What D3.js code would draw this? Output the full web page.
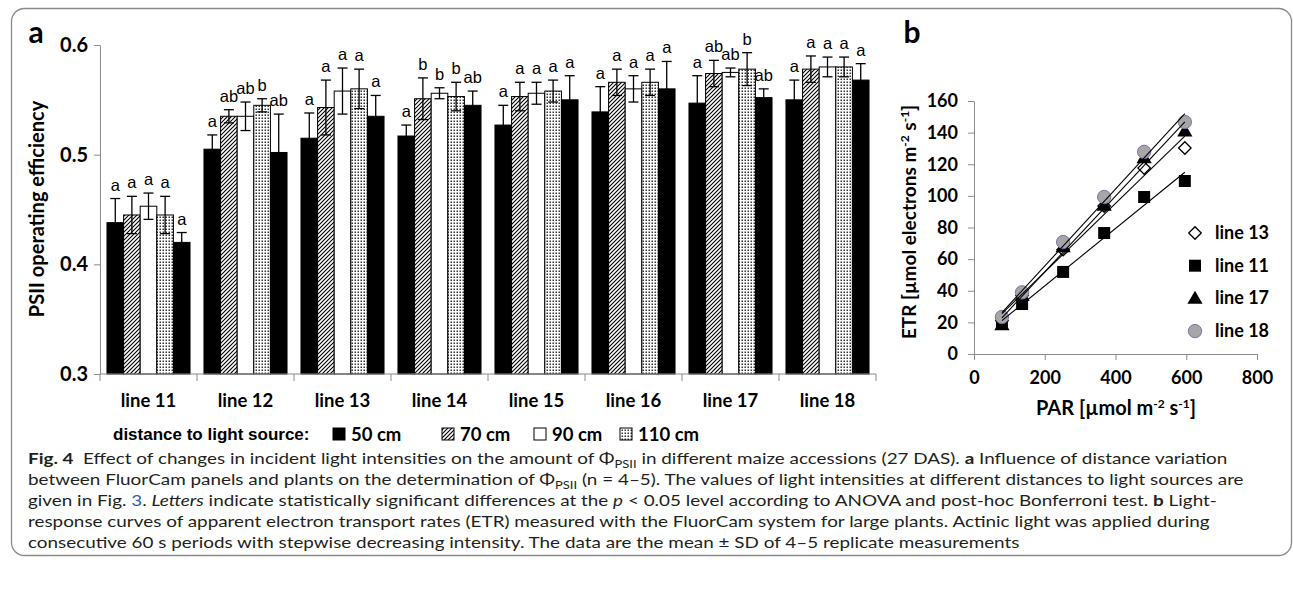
<!DOCTYPE html>
<html>
<head>
<meta charset="utf-8">
<script src="https://cdn.jsdelivr.net/npm/d3@7/dist/d3.min.js"></script>
<style>
  body { margin: 0; background: #fff; }
  svg { display: block; }
</style>
</head>
<body>
<svg id="fig" width="1293" height="593"></svg>
<script>
// ---------- Panel a: PSII operating efficiency per maize line ----------
const lineNames = ["line 11", "line 12", "line 13", "line 14", "line 15", "line 16", "line 17", "line 18"];
const distanceKeys = ["50 cm", "70 cm", "90 cm", "110 cm", "130 cm"];
const legendKeys = ["50 cm", "70 cm", "90 cm", "110 cm"];

const mean50  = [0.438, 0.505, 0.515, 0.517, 0.527, 0.539, 0.547, 0.550];
const sd50    = [0.022, 0.013, 0.023, 0.010, 0.018, 0.023, 0.025, 0.018];
const mean70  = [0.445, 0.535, 0.543, 0.551, 0.553, 0.566, 0.574, 0.578];
const sd70    = [0.017, 0.006, 0.025, 0.019, 0.013, 0.012, 0.012, 0.012];
const mean90  = [0.453, 0.535, 0.558, 0.556, 0.556, 0.560, 0.575, 0.580];
const sd90    = [0.012, 0.013, 0.021, 0.005, 0.010, 0.012, 0.004, 0.009];
const mean110 = [0.445, 0.545, 0.560, 0.553, 0.558, 0.566, 0.578, 0.580];
const sd110   = [0.017, 0.006, 0.018, 0.013, 0.010, 0.012, 0.015, 0.009];
const mean130 = [0.420, 0.502, 0.535, 0.545, 0.550, 0.560, 0.552, 0.568];
const sd130   = [0.009, 0.035, 0.019, 0.013, 0.022, 0.025, 0.008, 0.015];

const letters50  = ["a", "a",  "a", "a",  "a", "a", "a",  "a"];
const letters70  = ["a", "ab", "a", "b",  "a", "a", "ab", "a"];
const letters90  = ["a", "ab", "a", "b",  "a", "a", "ab", "a"];
const letters110 = ["a", "b",  "a", "b",  "a", "a", "b",  "a"];
const letters130 = ["a", "ab", "a", "ab", "a", "a", "ab", "a"];

const effTicks = [0.3, 0.4, 0.5, 0.6];

// ---------- Panel b: ETR light-response ----------
const par    = [79, 136, 252, 368, 481, 596];
const etr13  = [21.0, 37.0, 66.0, 93.6, 117.6, 130.3];
const etr11  = [19.0, 31.6, 51.9, 76.5, 99.3, 109.4];
const etr17  = [18.5, 37.0, 67.7, 94.0, 124.0, 141.0];
const etr18  = [23.4, 39.0, 70.8, 99.3, 127.8, 146.7];
const etrNames = ["line 13", "line 11", "line 17", "line 18"];
const parTicks = [0, 200, 400, 600, 800];
const etrTicks = [0, 20, 40, 60, 80, 100, 120, 140, 160];

const CAL = "Lato, 'Open Sans', sans-serif";
const ARIAL = "'Liberation Sans', Arial, sans-serif";
const AXIS_GREY = "#8c8c8c";

const svg = d3.select("#fig");
const defs = svg.append("defs");

// fill patterns
const hatch = defs.append("pattern").attr("id", "hatch")
  .attr("patternUnits", "userSpaceOnUse").attr("width", 4).attr("height", 4);
hatch.append("rect").attr("width", 4).attr("height", 4).attr("fill", "#fff");
hatch.append("path").attr("d", "M-1,1 l2,-2 M0,4 l4,-4 M3,5 l2,-2")
  .attr("stroke", "#000").attr("stroke-width", 1.1);

const dots = defs.append("pattern").attr("id", "dots")
  .attr("patternUnits", "userSpaceOnUse").attr("width", 3).attr("height", 3);
dots.append("rect").attr("width", 3).attr("height", 3).attr("fill", "#fff");
dots.append("rect").attr("x", 0.5).attr("y", 0.5).attr("width", 1.5).attr("height", 1.5).attr("fill", "#333");

const fills = {"50 cm": "#000", "70 cm": "url(#hatch)", "90 cm": "#fff", "110 cm": "url(#dots)", "130 cm": "#000"};

// outer frame
svg.append("rect").attr("x", 11.5).attr("y", 8.5).attr("width", 1280).attr("height", 547)
  .attr("rx", 13).attr("fill", "none").attr("stroke", "#8a8a8a").attr("stroke-width", 1.3);

// ================= Panel a =================
const series = [
  {key: "50 cm",  mean: mean50,  sd: sd50,  letters: letters50},
  {key: "70 cm",  mean: mean70,  sd: sd70,  letters: letters70},
  {key: "90 cm",  mean: mean90,  sd: sd90,  letters: letters90},
  {key: "110 cm", mean: mean110, sd: sd110, letters: letters110},
  {key: "130 cm", mean: mean130, sd: sd130, letters: letters130}
];

const x0 = d3.scaleBand().domain(lineNames).range([100, 876]).padding(0);
const x1 = d3.scaleBand().domain(distanceKeys).range([0, x0.bandwidth()]).paddingInner(0).paddingOuter(0.42);
const yA = d3.scaleLinear().domain([0.3, 0.6]).range([374, 45]);

const gA = svg.append("g");

const barData = [];
series.forEach(s => lineNames.forEach((ln, i) => {
  barData.push({line: ln, key: s.key, mean: s.mean[i], sd: s.sd[i], letter: s.letters[i]});
}));

gA.append("g").selectAll("rect").data(barData).join("rect")
  .attr("x", d => x0(d.line) + x1(d.key))
  .attr("y", d => yA(d.mean))
  .attr("width", x1.bandwidth())
  .attr("height", d => yA(0.3) - yA(d.mean))
  .attr("fill", d => fills[d.key])
  .attr("stroke", "#000").attr("stroke-width", 1);

// error bars
const eb = gA.append("g").attr("stroke", "#000").attr("stroke-width", 1.3);
barData.forEach(d => {
  const cx = x0(d.line) + x1(d.key) + x1.bandwidth() / 2;
  const yt = yA(d.mean + d.sd), yb = yA(d.mean - d.sd);
  eb.append("line").attr("x1", cx).attr("x2", cx).attr("y1", yt).attr("y2", yb);
  eb.append("line").attr("x1", cx - 5).attr("x2", cx + 5).attr("y1", yt).attr("y2", yt);
  eb.append("line").attr("x1", cx - 5).attr("x2", cx + 5).attr("y1", yb).attr("y2", yb);
});

// significance letters
gA.append("g").selectAll("text").data(barData).join("text")
  .attr("x", d => x0(d.line) + x1(d.key) + x1.bandwidth() / 2)
  .attr("y", d => yA(d.mean + d.sd) - 8)
  .attr("text-anchor", "middle")
  .style("font-family", ARIAL).style("font-size", "16.5px")
  .text(d => d.letter);

// y axis
const yAxisA = gA.append("g").attr("transform", "translate(100,0)")
  .call(d3.axisLeft(yA).tickValues(effTicks).tickFormat(d3.format(".1f")).tickSize(6).tickSizeOuter(0).tickPadding(6));
// x axis: boundaries between lines
const xAxisA = gA.append("g").attr("transform", "translate(0,374)")
  .call(d3.axisBottom(x0).tickSize(0).tickPadding(20));
xAxisA.select(".domain").remove();
const bounds = lineNames.map(d => x0(d)).concat([x0.range()[1]]);
xAxisA.append("line").attr("x1", 100).attr("x2", 876).attr("stroke", AXIS_GREY);
xAxisA.selectAll(".bound").data(bounds).join("line").attr("class", "bound")
  .attr("x1", d => d).attr("x2", d => d).attr("y1", 0).attr("y2", 7).attr("stroke", AXIS_GREY);

[yAxisA, xAxisA].forEach(ax => {
  ax.selectAll(".domain, .tick line").attr("stroke", AXIS_GREY);
  ax.selectAll("text").attr("fill", "#000").style("font-family", CAL).style("font-weight", "bold");
});
yAxisA.selectAll("text").style("font-size", "20px");
xAxisA.selectAll("text").style("font-size", "18.5px");

gA.append("text").attr("transform", "translate(44,209) rotate(-90)")
  .attr("text-anchor", "middle")
  .style("font-family", CAL).style("font-weight", "bold").style("font-size", "20px")
  .text("PSII operating efficiency");

gA.append("text").attr("x", 36).attr("y", 43).attr("text-anchor", "middle")
  .style("font-family", CAL).style("font-weight", "bold").style("font-size", "30px").text("a");

// legend for panel a
const legY = 434;
gA.append("text").attr("x", 113).attr("y", legY + 6)
  .style("font-family", ARIAL).style("font-weight", "bold").style("font-size", "17px")
  .text("distance to light source:");
const legX = {"50 cm": 333, "70 cm": 442, "90 cm": 534, "110 cm": 620};
legendKeys.forEach(k => {
  gA.append("rect").attr("x", legX[k]).attr("y", legY - 6).attr("width", 12).attr("height", 12)
    .attr("fill", fills[k]).attr("stroke", "#000").attr("stroke-width", 1);
  gA.append("text").attr("x", legX[k] + 18).attr("y", legY + 6.5)
    .style("font-family", CAL).style("font-weight", "bold").style("font-size", "18.5px").text(k);
});

// ================= Panel b =================
const xB = d3.scaleLinear().domain([0, 800]).range([974, 1257]);
const yB = d3.scaleLinear().domain([0, 160]).range([354, 101]);
const gB = svg.append("g");

const yAxisB = gB.append("g").attr("transform", "translate(974,0)")
  .call(d3.axisLeft(yB).tickValues(etrTicks).tickSize(6).tickSizeOuter(0).tickPadding(10));
const xAxisB = gB.append("g").attr("transform", "translate(0,354)")
  .call(d3.axisBottom(xB).tickValues(parTicks).tickSize(6).tickSizeOuter(0).tickPadding(11));
[yAxisB, xAxisB].forEach(ax => {
  ax.selectAll(".domain, .tick line").attr("stroke", AXIS_GREY);
  ax.selectAll("text").attr("fill", "#000").style("font-family", CAL)
    .style("font-weight", "bold").style("font-size", "18px");
});

const etrSeries = [
  {name: "line 13", values: etr13, shape: "diamond"},
  {name: "line 11", values: etr11, shape: "square"},
  {name: "line 17", values: etr17, shape: "triangle"},
  {name: "line 18", values: etr18, shape: "circle"}
];

function marker(sel, shape) {
  if (shape === "diamond") {
    sel.append("path").attr("d", d3.symbol(d3.symbolSquare, 78)())
      .attr("transform", "rotate(45)").attr("fill", "#fff").attr("stroke", "#000").attr("stroke-width", 1.3);
  } else if (shape === "square") {
    sel.append("path").attr("d", d3.symbol(d3.symbolSquare, 144)()).attr("fill", "#000");
  } else if (shape === "triangle") {
    sel.append("path").attr("d", d3.symbol(d3.symbolTriangle, 100)()).attr("fill", "#000")
      .attr("transform", "translate(0,1)");
  } else {
    sel.append("path").attr("d", d3.symbol(d3.symbolCircle, 140)())
      .attr("fill", "#a6a6a6").attr("stroke", "#8270a8").attr("stroke-width", 1);
  }
}

etrSeries.forEach(s => {
  par.forEach((p, i) => {
    const g = gB.append("g").attr("transform", `translate(${xB(p)},${yB(s.values[i])})`);
    marker(g, s.shape);
  });
});

// least-squares trend lines
etrSeries.forEach(s => {
  const mx = d3.mean(par), my = d3.mean(s.values);
  const sxy = d3.sum(par, (p, i) => (p - mx) * (s.values[i] - my));
  const sxx = d3.sum(par, p => (p - mx) * (p - mx));
  const slope = sxy / sxx, icpt = my - slope * mx;
  const ends = d3.extent(par);
  gB.append("line")
    .attr("x1", xB(ends[0])).attr("y1", yB(icpt + slope * ends[0]))
    .attr("x2", xB(ends[1])).attr("y2", yB(icpt + slope * ends[1]))
    .attr("stroke", "#000").attr("stroke-width", 1.1);
});

// legend for panel b
etrSeries.forEach((s, i) => {
  const ly = 233 + i * 32.7;
  const g = gB.append("g").attr("transform", `translate(1195,${ly})`);
  marker(g, s.shape);
  gB.append("text").attr("x", 1215).attr("y", ly + 6)
    .style("font-family", CAL).style("font-weight", "bold").style("font-size", "18px").text(s.name);
});

// axis titles with superscripts
function supTitle(g, parts, attrs) {
  const t = g.append("text").attr("text-anchor", "middle")
    .style("font-family", CAL).style("font-weight", "bold").style("font-size", attrs.size);
  if (attrs.transform) t.attr("transform", attrs.transform);
  let raised = false;
  parts.forEach(([txt, sup]) => {
    const ts = t.append("tspan").text(txt);
    if (sup) { ts.attr("dy", -7).style("font-size", "12px"); raised = true; }
    else if (raised) { ts.attr("dy", 7); raised = false; }
  });
  return t;
}
supTitle(gB, [["PAR [µmol m", false], ["-2", true], [" s", false], ["-1", true], ["]", false]],
  {size: "20px", transform: "translate(1116,415)"});
supTitle(gB, [["ETR [µmol electrons m", false], ["-2", true], [" s", false], ["-1", true], ["]", false]],
  {size: "19px", transform: "translate(916,222) rotate(-90)"});

gB.append("text").attr("x", 912).attr("y", 43).attr("text-anchor", "middle")
  .style("font-family", CAL).style("font-weight", "bold").style("font-size", "30px").text("b");

// ================= Caption =================
const cap = svg.append("g");
const capLines = [
  [["Fig. 4", "b"], ["  Effect of changes in incident light intensities on the amount of Φ", ""], ["PSII", "sub"],
   [" in different maize accessions (27 DAS). ", ""], ["a", "b"], [" Influence of distance variation", ""]],
  [["between FluorCam panels and plants on the determination of Φ", ""], ["PSII", "sub"],
   [" (n = 4–5). The values of light intensities at different distances to light sources are", ""]],
  [["given in Fig. ", ""], ["3", "link"], [". ", ""], ["Letters", "i"], [" indicate statistically significant differences at the ", ""],
   ["p", "i"], [" < 0.05 level according to ANOVA and post-hoc Bonferroni test. ", ""], ["b", "b"], [" Light-", ""]],
  [["response curves of apparent electron transport rates (ETR) measured with the FluorCam system for large plants. Actinic light was applied during", ""]],
  [["consecutive 60 s periods with stepwise decreasing intensity. The data are the mean ± SD of 4–5 replicate measurements", ""]]
];
const capTexts = capLines.map((segs, li) => {
  const t = cap.append("text").attr("x", 0).attr("y", 464 + li * 21)
    .style("font-family", "Lato, 'Open Sans', sans-serif").style("font-size", "16px").attr("fill", "#231f20")
    .attr("xml:space", "preserve").style("white-space", "pre");
  let shifted = false;
  segs.forEach(([txt, st]) => {
    const ts = t.append("tspan").text(txt);
    if (shifted) { ts.attr("dy", -4); shifted = false; }
    if (st === "b") ts.style("font-weight", "bold");
    if (st === "i") ts.style("font-style", "italic");
    if (st === "link") ts.attr("fill", "#2a5fb0");
    if (st === "sub") { ts.attr("dy", 4).style("font-size", "11px"); shifted = true; }
  });
  return t;
});
const w0 = capTexts[0].node().getComputedTextLength();
const sx = (1228 - 28) / w0;
cap.attr("transform", `translate(28,0) scale(${sx},1)`);
</script>
</body>
</html>
